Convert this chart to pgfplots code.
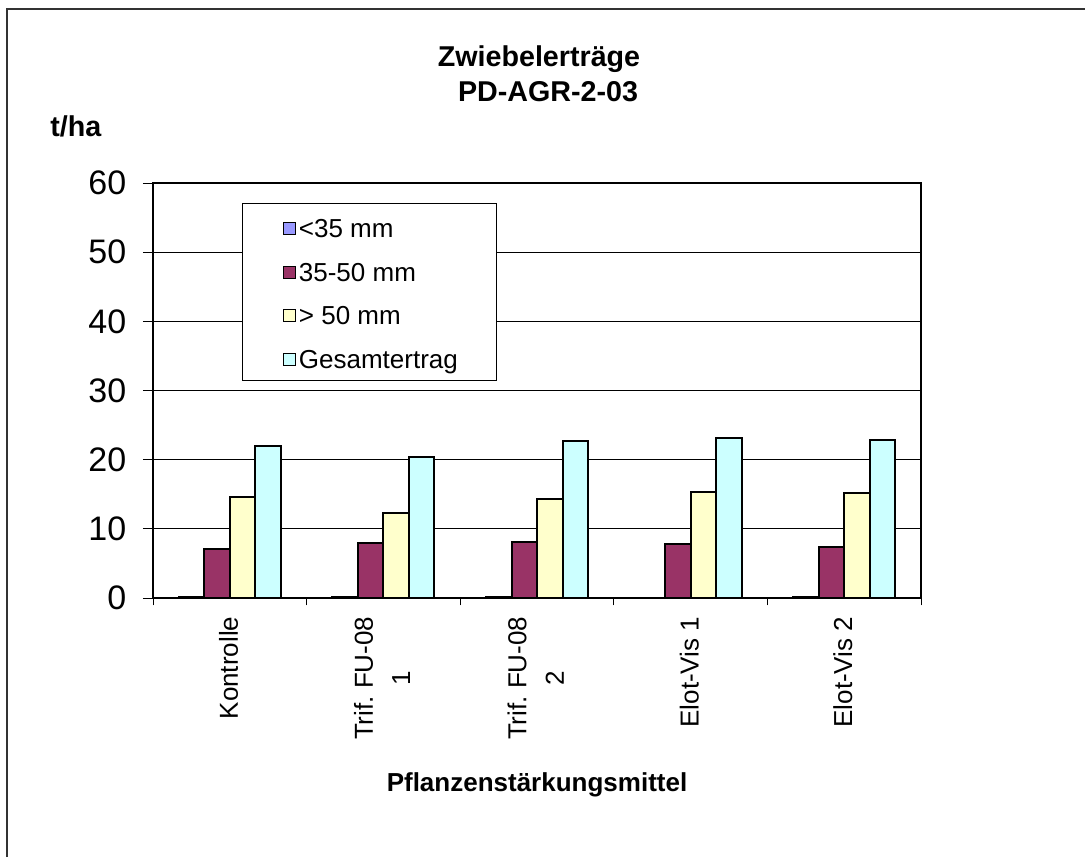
\documentclass[border=0pt]{standalone}
\usepackage{fontspec}
\setmainfont{Liberation Sans}
\usepackage{pgfplots}
\pgfplotsset{compat=1.18}

\definecolor{cA}{HTML}{9999FF}
\definecolor{cB}{HTML}{993366}
\definecolor{cC}{HTML}{FFFFCC}
\definecolor{cD}{HTML}{CCFFFF}

\newcommand{\fa}{\fontsize{19.5pt}{28pt}\selectfont}
\newcommand{\fb}{\fontsize{21.5pt}{26pt}\selectfont\bfseries}

\begin{document}
\frenchspacing
\begin{tikzpicture}
\useasboundingbox (0,0) rectangle (813.75pt,-642.75pt);
% outer frame (left and top only visible)
\draw[line width=1.5pt, black!80] (7*0.75pt,-857*0.75pt) -- (7*0.75pt,-9*0.75pt) -- (1085*0.75pt,-9*0.75pt);

\node[font=\fb, anchor=base] at (539*0.75pt,-66*0.75pt) {Zwiebelerträge};
\node[font=\fb, anchor=base] at (548*0.75pt,-101*0.75pt) {PD-AGR-2-03};
\node[font=\fb, anchor=base west, inner sep=0pt] at (50*0.75pt,-136*0.75pt) {t/ha};
\node[font=\fontsize{19.5pt}{24pt}\selectfont\bfseries, anchor=base] at (537*0.75pt,-791*0.75pt) {Pflanzenstärkungsmittel};

\begin{axis}[
    at={(153*0.75pt,-598*0.75pt)}, anchor=south west,
    scale only axis, width=576pt, height=311.25pt,
    xmin=0.5, xmax=5.5, ymin=0, ymax=60,
    ybar=0pt, bar width=0.166,
    xtick={1,...,5},
    xticklabels={Kontrolle, {Trif. FU-08\\1}, {Trif. FU-08\\2}, Elot-Vis 1, Elot-Vis 2},
    major x tick style={draw=none},
    minor xtick={0.5,1.5,...,5.5},
    minor tick length=5.5pt,
    ytick={0,10,...,60},
    major tick length=7.5pt,
    tick align=outside,
    xtick pos=bottom, ytick pos=left,
    tick style={black, line width=0.75pt},
    axis line style={line width=1.5pt},
    ymajorgrids, grid style={black, line width=0.75pt},
    x tick label style={rotate=90, anchor=east, align=center, font=\fa, xshift=-3pt, yshift=1pt},
    y tick label style={font=\fontsize{25.5pt}{25.5pt}\selectfont, xshift=-9pt},
    /pgf/number format/assume math mode=true,
    legend cell align=left,
    legend image code/.code={\path (-3pt,0pt); \draw[#1, line width=1pt] (0pt,-5.9pt) rectangle (9pt,3.1pt);},
    legend style={at={(0.116,0.952)}, anchor=north west, draw=black, line width=0.75pt,
        fill=white, font=\fa, inner xsep=27pt, inner ysep=2pt, row sep=1.4pt,
        nodes={inner xsep=2pt, inner ysep=0pt, text height=23.7pt, text depth=7.5pt}},
]
\addplot[fill=cA, draw=black, line width=1.5pt] coordinates {(1,0.1) (2,0.2) (3,0.1) (5,0.1)};
\addlegendentry{<35 mm}
\addplot[fill=cB, draw=black, line width=1.5pt] coordinates {(1,7.04) (2,8.0) (3,8.05) (4,7.76) (5,7.42)};
\addlegendentry{35-50 mm}
\addplot[fill=cC, draw=black, line width=1.5pt] coordinates {(1,14.65) (2,12.24) (3,14.36) (4,15.37) (5,15.23)};
\addlegendentry{> 50 mm}
\addplot[fill=cD, draw=black, line width=1.5pt] coordinates {(1,21.97) (2,20.43) (3,22.65) (4,23.08) (5,22.84)};
\addlegendentry{Gesamtertrag}
\end{axis}
\end{tikzpicture}
\end{document}
